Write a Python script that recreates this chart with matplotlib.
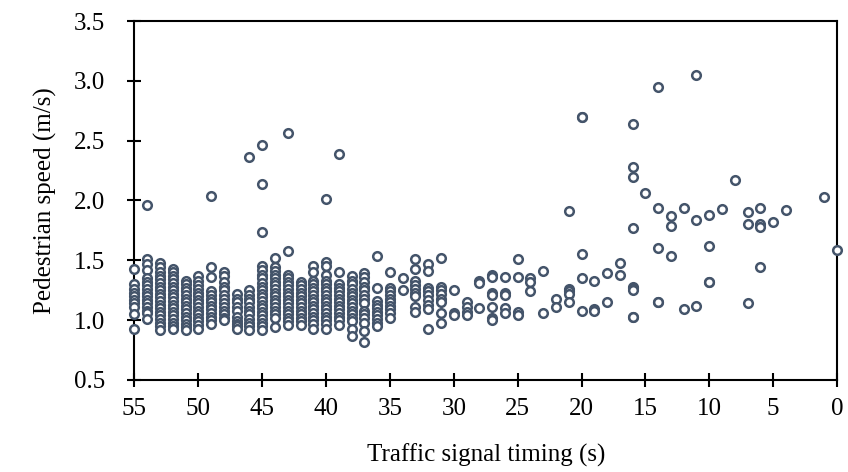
import matplotlib
matplotlib.use("Agg")
import matplotlib.pyplot as plt
from matplotlib.ticker import FormatStrFormatter

# traffic signal timing (s) and the pedestrian speeds (m/s) observed at each timing
timing_s = [55, 54, 53, 52, 51, 50, 49, 48, 47, 46, 45, 44, 43, 42, 41, 40, 39, 38,
            37, 36, 35, 34, 33, 32, 31, 30, 29, 28, 27, 26, 25, 24, 23, 22, 21, 20,
            19, 18, 17, 16, 15, 14, 13, 12, 11, 10, 9, 8, 7, 6, 5, 4, 1, 0]

speed_ms = [
    [1.43, 1.30, 1.26, 1.23, 1.20, 1.17, 1.14, 1.11, 1.05, 0.93],
    [1.96, 1.51, 1.47, 1.42, 1.35, 1.32, 1.29, 1.26, 1.23, 1.20, 1.17, 1.14, 1.11, 1.08, 1.06, 1.01],
    [1.48, 1.44, 1.40, 1.37, 1.34, 1.31, 1.28, 1.25, 1.22, 1.19, 1.16, 1.13, 1.10, 1.07, 1.04, 1.01, 0.98, 0.95, 0.92],
    [1.43, 1.40, 1.37, 1.34, 1.31, 1.28, 1.25, 1.22, 1.19, 1.16, 1.13, 1.10, 1.07, 1.04, 1.01, 0.98, 0.95, 0.93],
    [1.33, 1.30, 1.27, 1.24, 1.21, 1.18, 1.15, 1.12, 1.09, 1.06, 1.03, 1.00, 0.97, 0.94, 0.92],
    [1.37, 1.33, 1.29, 1.26, 1.23, 1.20, 1.17, 1.14, 1.11, 1.08, 1.05, 1.02, 0.99, 0.96, 0.93],
    [2.04, 1.44, 1.36, 1.24, 1.21, 1.18, 1.15, 1.12, 1.09, 1.06, 1.03, 1.00, 0.97],
    [1.40, 1.37, 1.32, 1.28, 1.25, 1.21, 1.18, 1.14, 1.11, 1.08, 1.05, 1.02, 1.00],
    [1.22, 1.18, 1.15, 1.11, 1.08, 1.03, 0.99, 0.97, 0.95, 0.93],
    [2.36, 1.25, 1.21, 1.18, 1.15, 1.11, 1.08, 1.05, 1.01, 0.98, 0.95, 0.92],
    [2.46, 2.14, 1.74, 1.45, 1.42, 1.38, 1.35, 1.31, 1.28, 1.25, 1.22, 1.19, 1.16, 1.13, 1.10, 1.07, 1.04, 1.01, 0.98, 0.95, 0.92],
    [1.52, 1.44, 1.41, 1.38, 1.35, 1.32, 1.29, 1.26, 1.23, 1.20, 1.17, 1.14, 1.11, 1.08, 1.05, 1.02, 0.94],
    [2.56, 1.58, 1.38, 1.35, 1.32, 1.29, 1.26, 1.23, 1.20, 1.17, 1.14, 1.11, 1.08, 1.05, 1.02, 0.99, 0.96],
    [1.32, 1.29, 1.26, 1.23, 1.20, 1.17, 1.14, 1.11, 1.08, 1.05, 1.02, 0.99, 0.96],
    [1.45, 1.40, 1.33, 1.30, 1.27, 1.24, 1.21, 1.18, 1.15, 1.12, 1.09, 1.06, 1.03, 1.00, 0.97, 0.93],
    [2.01, 1.49, 1.45, 1.38, 1.33, 1.30, 1.27, 1.24, 1.21, 1.18, 1.15, 1.12, 1.09, 1.06, 1.03, 1.00, 0.97, 0.93],
    [2.39, 1.40, 1.30, 1.27, 1.24, 1.21, 1.18, 1.15, 1.12, 1.09, 1.06, 1.03, 1.00, 0.96],
    [1.37, 1.33, 1.30, 1.26, 1.23, 1.20, 1.17, 1.14, 1.11, 1.08, 1.05, 1.02, 0.99, 0.93, 0.87],
    [1.39, 1.36, 1.32, 1.28, 1.25, 1.21, 1.18, 1.14, 1.08, 1.05, 1.02, 0.98, 0.91, 0.82],
    [1.54, 1.27, 1.16, 1.13, 1.10, 1.07, 1.04, 1.01, 0.98, 0.95],
    [1.40, 1.27, 1.24, 1.21, 1.18, 1.15, 1.12, 1.09, 1.06, 1.02],
    [1.35, 1.25],
    [1.51, 1.43, 1.33, 1.29, 1.26, 1.23, 1.20, 1.11, 1.07],
    [1.47, 1.41, 1.27, 1.24, 1.21, 1.17, 1.13, 1.09, 0.93],
    [1.52, 1.28, 1.25, 1.22, 1.18, 1.15, 1.06, 0.98],
    [1.25, 1.06, 1.04],
    [1.15, 1.11, 1.07, 1.04],
    [1.33, 1.31, 1.10],
    [1.38, 1.36, 1.23, 1.21, 1.11, 1.02, 1.00],
    [1.36, 1.23, 1.21, 1.10, 1.06],
    [1.51, 1.36, 1.07, 1.04],
    [1.35, 1.32, 1.24],
    [1.41, 1.06],
    [1.18, 1.11],
    [1.91, 1.26, 1.24, 1.22, 1.15],
    [2.70, 2.70, 1.55, 1.35, 1.08],
    [1.33, 1.09, 1.08],
    [1.39, 1.15],
    [1.48, 1.38],
    [2.64, 2.28, 2.20, 1.77, 1.28, 1.27, 1.25, 1.03, 1.03],
    [2.06],
    [2.95, 1.94, 1.60, 1.15, 1.15],
    [1.87, 1.79, 1.54],
    [1.94, 1.09],
    [3.05, 1.84, 1.12],
    [1.88, 1.62, 1.32, 1.32],
    [1.93],
    [2.17],
    [1.90, 1.80, 1.14],
    [1.94, 1.80, 1.78, 1.44],
    [1.82],
    [1.92],
    [2.03],
    [1.59],
]

x_ticks = [55, 50, 45, 40, 35, 30, 25, 20, 15, 10, 5, 0]
y_ticks = [0.5, 1.0, 1.5, 2.0, 2.5, 3.0, 3.5]

# flatten to point pairs
xs, ys = [], []
for t, vals in zip(timing_s, speed_ms):
    for v in vals:
        xs.append(t)
        ys.append(v)

plt.rcParams['font.family'] = ['Liberation Serif', 'DejaVu Serif']

fig = plt.figure(figsize=(8.48, 4.72), dpi=100)
ax = fig.add_axes([0.1586, 0.195, 0.8284, 0.7605])

ax.plot(xs, ys, linestyle='none', marker='o', markersize=6.2,
        markerfacecolor='white', markeredgecolor='#44546A',
        markeredgewidth=1.8, clip_on=False, zorder=3)

ax.set_xlim(55, 0)
ax.set_ylim(0.5, 3.5)
ax.set_xticks(x_ticks)
ax.set_yticks(y_ticks)
ax.yaxis.set_major_formatter(FormatStrFormatter('%.1f'))

ax.tick_params(direction='inout', length=10, width=1.5, labelsize=18,
               colors='black')
ax.tick_params(axis='x', pad=8)
ax.tick_params(axis='y', pad=16)
for s in ax.spines.values():
    s.set_linewidth(1.5)
    s.set_color('black')

ax.set_xlabel('Traffic signal timing (s)', fontsize=18, labelpad=17)
ax.set_ylabel('Pedestrian speed (m/s)', fontsize=18, labelpad=12)

fig.savefig('out.png', dpi=100)
